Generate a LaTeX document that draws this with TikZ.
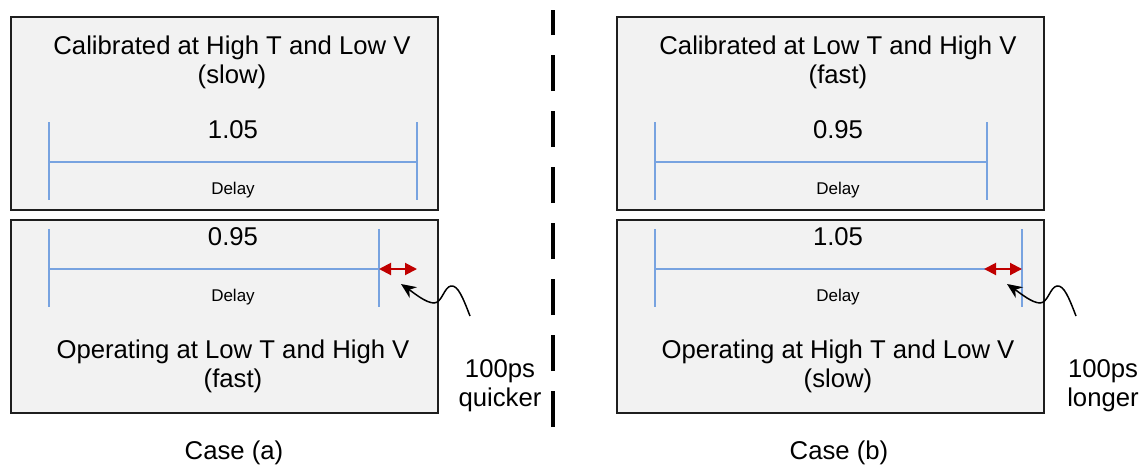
\documentclass[tikz,border=0pt]{standalone}
\usepackage{fontspec}
\setmainfont{Liberation Sans}
\usetikzlibrary{arrows.meta}
\definecolor{boxfill}{RGB}{242,242,242}
\definecolor{boxline}{RGB}{30,30,30}
\definecolor{delayblue}{RGB}{120,163,224}
\definecolor{diffred}{RGB}{192,0,0}
\begin{document}
\begin{tikzpicture}[x=1pt,y=-1pt,
  panel/.style={draw=boxline,line width=1.8pt,fill=boxfill,minimum width=427pt,minimum height=193pt,anchor=north west,inner sep=0pt},
  bar/.style={draw=delayblue,line width=2.6pt},
  big/.style={font=\fontsize{25.7}{30}\selectfont,inner sep=0pt,anchor=base},
  small/.style={font=\fontsize{17}{20}\selectfont,inner sep=0pt,anchor=base},
  diff/.style={draw=diffred,line width=2pt,{Triangle[length=12pt,width=12pt]}-{Triangle[length=12pt,width=12pt]}},
  pointer/.style={draw=black,line width=1.5pt,-{Stealth[length=15pt,width=13pt]}},
  divider/.style={draw=black,line width=3.2pt,dash pattern=on 36pt off 20pt}]
\useasboundingbox (0,0) rectangle (1140,466);

% ---------- Case (a) ----------
\node[panel] (calA) at (10,16) {};
\node[panel] (opA) at (10,219) {};

\node[big] (calAt1) at (232,54) {Calibrated at High T and Low V};
\node[big] (calAt2) at (232,83) {(slow)};
\coordinate (calAl) at (49,162);
\coordinate (calAr) at (417,162);
\draw[bar] (49,122) -- (49,200);
\draw[bar] (417,122) -- (417,200);
\draw[bar] (calAl) -- (calAr);
\node[big] (calAv) at (233,138) {1.05};
\node[small] (calAd) at (233,194) {Delay};

\coordinate (opAl) at (49,269);
\coordinate (opAr) at (379,269);
\coordinate (opAx) at (417,269);
\draw[bar] (49,229) -- (49,307);
\draw[bar] (379,229) -- (379,307);
\draw[bar] (opAl) -- (opAr);
\draw[diff] (opAr) -- (opAx);
\node[big] (opAv) at (233,245) {0.95};
\node[small] (opAd) at (233,301) {Delay};
\node[big] (opAt1) at (233,358) {Operating at Low T and High V};
\node[big] (opAt2) at (233,387) {(fast)};

\node[big] (noteA1) at (500,377) {100ps};
\node[big] (noteA2) at (500,406) {quicker};
\coordinate (tailA) at (470,316);
\coordinate (tipA) at (401,284);
\draw[pointer] (tailA) .. controls (463,298) and (458,285) .. (451,286)
  .. controls (444,287) and (442,303) .. (434,303)
  .. controls (426,303) and (414,293) .. (tipA);

\node[big] (caseA) at (234,459) {Case (a)};

% ---------- divider ----------
\coordinate (divB) at (553,427);
\coordinate (divT) at (553,10);
\draw[divider] (divB) -- (divT);

% ---------- Case (b) ----------
\node[panel] (calB) at (616,16) {};
\node[panel] (opB) at (616,219) {};

\node[big] (calBt1) at (838,54) {Calibrated at Low T and High V};
\node[big] (calBt2) at (838,83) {(fast)};
\coordinate (calBl) at (655,162);
\coordinate (calBr) at (987,162);
\draw[bar] (655,122) -- (655,200);
\draw[bar] (987,122) -- (987,200);
\draw[bar] (calBl) -- (calBr);
\node[big] (calBv) at (838,138) {0.95};
\node[small] (calBd) at (838,194) {Delay};

\coordinate (opBl) at (655,269);
\coordinate (opBr) at (1022,269);
\coordinate (opBx) at (984,269);
\draw[bar] (655,229) -- (655,307);
\draw[bar] (1022,229) -- (1022,307);
\draw[bar] (opBl) -- (opBr);
\draw[diff] (opBx) -- (opBr);
\node[big] (opBv) at (838,245) {1.05};
\node[small] (opBd) at (838,301) {Delay};
\node[big] (opBt1) at (838,358) {Operating at High T and Low V};
\node[big] (opBt2) at (838,387) {(slow)};

\node[big] (noteB1) at (1103,377) {100ps};
\node[big] (noteB2) at (1103,406) {longer};
\coordinate (tailB) at (1076,316);
\coordinate (tipB) at (1007,284);
\draw[pointer] (tailB) .. controls (1069,298) and (1064,285) .. (1057,286)
  .. controls (1050,287) and (1048,303) .. (1040,303)
  .. controls (1032,303) and (1020,293) .. (tipB);

\node[big] (caseB) at (839,459) {Case (b)};
\end{tikzpicture}
\end{document}
